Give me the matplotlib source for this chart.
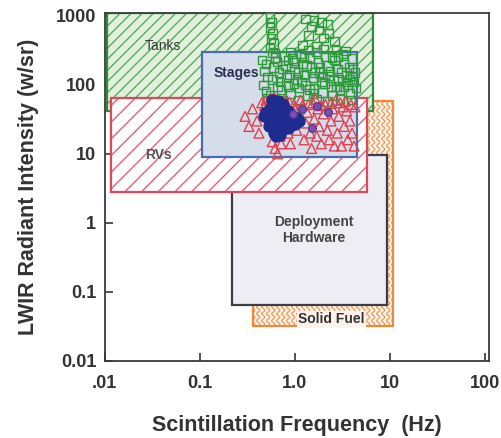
import numpy as np
import matplotlib
matplotlib.use("Agg")
import matplotlib.pyplot as plt
from matplotlib.patches import Rectangle

plt.rcParams['font.family'] = ['Liberation Sans', 'DejaVu Sans']

# Signature regions: (name, f_lo, f_hi, I_lo, I_hi) in Hz and W/sr
region_names = ["Solid Fuel", "Tanks", "Deployment\nHardware", "RVs", "Stages"]
region_f_lo = [0.366, 0.0106, 0.22, 0.0117, 0.106]
region_f_hi = [10.9, 6.6, 9.4, 5.7, 4.55]
region_I_lo = [0.032, 42.0, 0.065, 2.8, 8.9]
region_I_hi = [59.0, 1100.0, 9.8, 65.0, 302.0]

# Measured events: tank data (squares)
tanks_hz = [0.55, 0.57, 0.55, 0.58, 0.56, 0.60, 0.55, 0.58, 0.62,
            1.3, 1.6, 1.9, 2.2, 1.5, 1.8, 2.3, 1.4, 2.0, 2.6, 1.2, 1.7,
            0.45, 0.50, 0.48, 0.52, 0.47, 0.50, 0.55, 0.60, 0.65, 0.68, 0.70, 0.72,
            0.78, 0.80, 0.82, 0.85, 0.90, 0.95, 1.00, 1.05, 1.10, 1.15, 1.20, 1.25,
            1.30, 1.35, 1.45, 1.50, 1.55, 1.60, 1.70, 1.75, 1.80, 1.90, 1.95, 2.10,
            2.20, 2.30, 2.40, 2.50, 2.60, 2.80, 2.90, 3.00, 3.20, 3.30, 3.50, 3.60,
            3.80, 4.00, 4.10, 4.20, 0.62, 0.90, 1.40, 2.00, 2.70, 3.40, 1.10, 1.70,
            2.20, 3.00, 3.90, 4.40, 0.75,
            0.58, 0.66, 0.74, 0.88, 0.98, 1.08, 1.18, 1.32, 1.42, 1.62, 1.85, 2.05,
            2.35, 2.55, 2.75, 3.10, 3.45, 3.70, 4.05, 4.30, 0.52, 1.00, 1.55, 2.45,
            3.25, 0.85, 1.25, 1.95, 2.85, 3.75]
tanks_wsr = [950, 800, 680, 560, 470, 400, 340, 290, 250,
             900, 850, 800, 750, 700, 620, 560, 520, 480, 430, 380, 360,
             230, 200, 160, 130, 100, 80, 70, 180, 220, 150, 110, 85,
             260, 190, 130, 95, 75, 240, 170, 120, 90, 280, 200, 140,
             100, 70, 250, 180, 125, 88, 300, 210, 150, 110, 78, 260,
             190, 135, 95, 70, 230, 170, 120, 85, 280, 200, 140, 100,
             75, 240, 170, 110, 290, 300, 320, 330, 320, 310, 60, 62,
             58, 62, 60, 90, 60,
             120, 95, 170, 140, 105, 150, 110, 190, 85, 150, 180, 105,
             160, 115, 95, 150, 110, 180, 135, 150, 65, 210, 75, 250,
             95, 230, 250, 130, 260, 120]

# RV data (triangles)
rv_hz = [0.30, 0.33, 0.36, 0.40, 0.42, 0.45, 0.50, 0.55, 0.60, 0.65, 0.70, 0.75,
         0.80, 0.58, 0.62, 0.66, 0.72, 0.70, 0.85, 0.90, 0.95, 1.00, 1.05, 1.10,
         1.20, 1.25, 1.30, 1.35, 1.45, 1.50, 1.55, 1.60, 1.70, 1.75, 1.80, 1.90,
         2.00, 2.10, 2.20, 2.30, 2.40, 2.50, 2.60, 2.80, 2.90, 3.00, 3.10, 3.30,
         3.50, 3.60, 3.80, 4.00, 4.20, 4.30, 0.52, 0.48, 1.15, 1.65, 2.70, 3.40,
         0.56, 0.63, 0.68, 0.78, 0.88, 0.98, 1.40, 1.90, 2.40, 3.20, 3.90]
rv_wsr = [35, 25, 45, 30, 20, 55, 60, 62, 65, 60, 58, 55,
          52, 15, 12, 10, 14, 18, 20, 14, 30, 45, 22, 35,
          50, 16, 28, 40, 20, 12, 55, 32, 18, 45, 25, 14,
          38, 52, 22, 16, 30, 45, 13, 20, 35, 55, 13, 25,
          42, 16, 30, 20, 13, 48, 40, 50, 60, 62, 60, 58,
          57, 62, 55, 60, 56, 52, 52, 50, 54, 48, 52]

# Stage data (filled dots)
stage_hz = [0.50, 0.52, 0.55, 0.55, 0.57, 0.58, 0.60, 0.60, 0.62, 0.63, 0.65, 0.65,
            0.67, 0.68, 0.70, 0.70, 0.72, 0.73, 0.75, 0.76, 0.78, 0.80, 0.82, 0.85,
            0.87, 0.90, 0.95, 1.00, 1.05, 0.60, 0.64, 0.70, 0.53, 0.58, 0.66, 0.75,
            0.85, 0.92, 0.48, 1.10]
stage_wsr = [40, 34, 45, 30, 38, 50, 28, 42, 35, 55, 24, 45,
             32, 40, 27, 50, 36, 22, 44, 30, 38, 26, 34, 42,
             29, 36, 31, 27, 33, 20, 18, 19, 25, 60, 58, 52,
             24, 26, 36, 30]

# Other events (circles)
other_hz = [0.95, 1.5, 2.25, 1.2, 1.7]
other_wsr = [38, 24, 40, 45, 50]

x_ticks = [0.01, 0.1, 1.0, 10, 100]
x_ticklabels = [".01", "0.1", "1.0", "10", "100"]
y_ticks = [0.01, 0.1, 1, 10, 100, 1000]
y_ticklabels = ["0.01", "0.1", "1", "10", "100", "1000"]

ink = "#333333"

fig = plt.figure(figsize=(5.01, 4.38), dpi=100)
ax = fig.add_axes([0.2086, 0.1758, 0.976 - 0.2086, 0.9703 - 0.1758])
ax.set_xscale("log")
ax.set_yscale("log")
ax.set_xlim(0.01, 110)
ax.set_ylim(0.01, 1100)

styles = {
    "Solid Fuel": dict(face="#fdf3ea", edge="#e98a3c", hatch=None, hcol=None, z=1),
    "Tanks": dict(face="#e2f0dc", edge="#2f8a3f", hatch="///", hcol="#55ad62", z=2),
    "Deployment\nHardware": dict(face="#eeedf3", edge="#3d3d48", hatch=None, hcol=None, z=3),
    "RVs": dict(face="#ffffff", edge="#e0485a", hatch="//", hcol="#ea6070", z=4),
    "Stages": dict(face="#d5dcea", edge="#4a6cb0", hatch=None, hcol=None, z=5),
}

patches = {}
for name, f0, f1, i0, i1 in zip(region_names, region_f_lo, region_f_hi,
                                region_I_lo, region_I_hi):
    st = styles[name]
    base = Rectangle((f0, i0), f1 - f0, i1 - i0, facecolor=st["face"],
                     edgecolor="none", zorder=st["z"])
    ax.add_patch(base)
    if st["hatch"]:
        h = Rectangle((f0, i0), f1 - f0, i1 - i0, facecolor="none",
                      edgecolor=st["hcol"], hatch=st["hatch"], linewidth=0,
                      zorder=st["z"] + 0.1)
        ax.add_patch(h)
    edge = Rectangle((f0, i0), f1 - f0, i1 - i0, facecolor="none",
                     edgecolor=st["edge"], linewidth=1.6, zorder=st["z"] + 0.3)
    ax.add_patch(edge)
    patches[name] = base

# Wavy fill pattern for the solid-fuel region
sf = patches["Solid Fuel"]
fig.canvas.draw()
bb = sf.get_window_extent()
ys = np.linspace(bb.y0 - 5, bb.y1 + 5, 400)
xs0 = np.arange(bb.x0 - 5, bb.x1 + 5, 5.0)
inv = ax.transAxes.inverted()
for x0 in xs0:
    xw = x0 + 1.6 * np.sin(2 * np.pi * ys / 7.0)
    pts = inv.transform(np.column_stack([xw, ys]))
    ln, = ax.plot(pts[:, 0], pts[:, 1], transform=ax.transAxes,
                  color="#ee9a55", lw=0.9, zorder=1.1)
    ln.set_clip_path(sf)

# Measured points
ax.scatter(tanks_hz, tanks_wsr, marker="s", s=38, facecolors="none",
           edgecolors="#2f9a3c", linewidths=1.0, zorder=6)
ax.scatter(rv_hz, rv_wsr, marker="^", s=50, facecolors="none",
           edgecolors="#e3404e", linewidths=1.0, zorder=7)
ax.scatter(stage_hz, stage_wsr, marker="o", s=62, color="#1f2b8f",
           edgecolors="#1f2b8f", zorder=8)
ax.scatter(other_hz, other_wsr, marker="o", s=30, color="#7a4fb0",
           edgecolors="#5a3a90", zorder=9)

# Region labels
ax.text(0.041, 368, "Tanks", ha="center", va="center", fontsize=10,
        color="#3a3a3a", zorder=10)
ax.text(0.242, 150, "Stages", ha="center", va="center", fontsize=10,
        fontweight="bold", color="#2a3050", zorder=10)
ax.text(0.0366, 9.5, "RVs", ha="center", va="center", fontsize=10,
        fontweight="bold", color="#555555", zorder=10)
ax.text(1.57, 0.78, "Deployment\nHardware", ha="center", va="center",
        fontsize=10, fontweight="bold", color="#444444", linespacing=1.2,
        zorder=10)
ax.text(2.42, 0.040, "Solid Fuel", ha="center", va="center", fontsize=10,
        fontweight="bold", color="#333333", zorder=10,
        bbox=dict(boxstyle="square,pad=0.1", facecolor="#fdf3ea",
                  edgecolor="none"))

ax.minorticks_off()
ax.set_xticks(x_ticks)
ax.set_xticklabels(x_ticklabels)
ax.set_yticks(y_ticks)
ax.set_yticklabels(y_ticklabels)
ax.tick_params(direction="in", length=6, width=1.2, colors=ink,
               labelsize=13, top=False, right=False)
ax.tick_params(axis="x", pad=10)
ax.tick_params(axis="y", pad=6)
for lbl in ax.get_xticklabels() + ax.get_yticklabels():
    lbl.set_fontweight("bold")
for sp in ax.spines.values():
    sp.set_color("#3a3a3a")
    sp.set_linewidth(1.3)

ax.set_xlabel("Scintillation Frequency  (Hz)", fontsize=15.5,
              fontweight="bold", color=ink, labelpad=17)
ax.set_ylabel("LWIR Radiant Intensity (w/sr)", fontsize=15.5,
              fontweight="bold", color=ink, labelpad=12)

fig.savefig("out.png", dpi=100)
